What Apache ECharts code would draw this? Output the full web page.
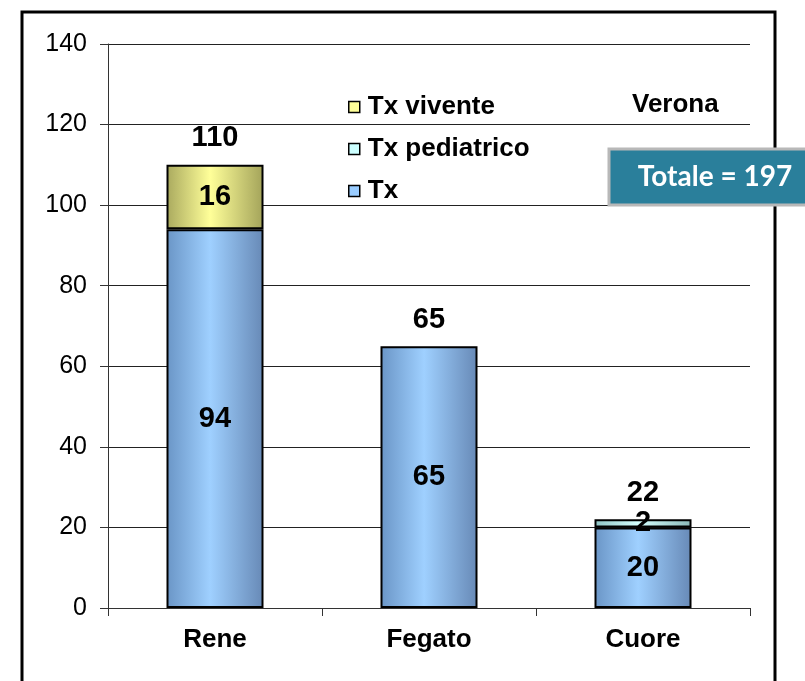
<!DOCTYPE html>
<html>
<head>
<meta charset="utf-8">
<script src="https://cdn.jsdelivr.net/npm/echarts@6/dist/echarts.min.js"></script>
<style>
html,body{margin:0;padding:0;background:#fff;}
#c{width:805px;height:681px;}
</style>
</head>
<body>
<div id="c"></div>
<script>
var categories = ['Rene', 'Fegato', 'Cuore'];
var txValues = [94, 65, 20];
var pediatricoValues = [0, 0, 2];
var viventeValues = [16, 0, 0];
var totalValues = [110, 65, 22];
var yTicks = [0, 20, 40, 60, 80, 100, 120, 140];

function grad(edgeL, peak, edgeR) {
  return new echarts.graphic.LinearGradient(0, 0, 1, 0, [
    {offset: 0, color: edgeL},
    {offset: 0.45, color: peak},
    {offset: 1, color: edgeR}
  ]);
}
function skipZero(arr) { return arr.map(function (v) { return v > 0 ? v : '-'; }); }
var FONT = '"Liberation Sans", Arial, sans-serif';
var insideLabel = {
  show: true, position: 'inside', fontFamily: FONT, fontWeight: 'bold', fontSize: 29, color: '#000',
  formatter: function (p) { return p.value > 0 ? String(p.value) : ''; }
};

var chart = echarts.init(document.getElementById('c'), null, {renderer: 'canvas'});
chart.setOption({
  animation: false,
  backgroundColor: '#fff',
  grid: {left: 108, right: 55, top: 44, bottom: 73, containLabel: false},
  legend: {
    orient: 'vertical', left: 343, top: 89, itemGap: 16,
    itemWidth: 11, itemHeight: 11, icon: 'rect',
    textStyle: {fontFamily: FONT, fontWeight: 'bold', fontSize: 26, color: '#000', padding: [0, 0, 0, 3]},
    data: [
      {name: 'Tx vivente', itemStyle: {color: '#ffff99', borderColor: '#000', borderWidth: 1.5}},
      {name: 'Tx pediatrico', itemStyle: {color: '#ccffff', borderColor: '#000', borderWidth: 1.5}},
      {name: 'Tx', itemStyle: {color: '#99ccff', borderColor: '#000', borderWidth: 1.5}}
    ]
  },
  xAxis: {
    type: 'category', data: categories,
    axisLine: {lineStyle: {color: '#333', width: 1}},
    axisTick: {show: true, length: 8, lineStyle: {color: '#333'}, alignWithLabel: false},
    axisLabel: {fontFamily: FONT, fontWeight: 'bold', fontSize: 26, color: '#000', margin: 19}
  },
  yAxis: {
    type: 'value', min: 0, max: 140, interval: 20,
    axisLine: {show: true, lineStyle: {color: '#333', width: 1}},
    axisTick: {show: true, length: 8, lineStyle: {color: '#333'}},
    axisLabel: {fontFamily: FONT, fontSize: 25, color: '#000', margin: 21,
      formatter: function (v) { return yTicks.indexOf(v) >= 0 ? String(v) : ''; }},
    splitLine: {show: true, lineStyle: {color: '#222', width: 1}}
  },
  series: [
    {
      name: 'Tx', type: 'bar', stack: 's', data: skipZero(txValues), barWidth: 97,
      itemStyle: {color: grad('#6a95c6', '#9fd0ff', '#6789b6'), borderColor: '#000', borderWidth: 2},
      label: insideLabel
    },
    {
      name: 'Tx pediatrico', type: 'bar', stack: 's', data: skipZero(pediatricoValues), barWidth: 97,
      itemStyle: {color: grad('#8fc4c4', '#d4ffff', '#8ab8b8'), borderColor: '#000', borderWidth: 2},
      label: insideLabel
    },
    {
      name: 'Tx vivente', type: 'bar', stack: 's', data: skipZero(viventeValues), barWidth: 97,
      itemStyle: {color: grad('#a9a95e', '#ffff99', '#a3a35a'), borderColor: '#000', borderWidth: 2},
      label: insideLabel
    },
    {
      name: 'Totale', type: 'bar', stack: 's', data: categories.map(function () { return 0; }), barWidth: 97,
      itemStyle: {color: 'rgba(0,0,0,0)', borderWidth: 0},
      label: {show: true, position: 'top', distance: 12, fontFamily: FONT, fontWeight: 'bold', fontSize: 29, color: '#000',
        formatter: function (p) { return String(totalValues[p.dataIndex]); }}
    }
  ],
  graphic: [
    {type: 'rect', shape: {x: 22, y: 12, width: 753, height: 700},
      style: {fill: 'none', stroke: '#000', lineWidth: 3}, z: 100},
    {type: 'text', left: 632, top: 92,
      style: {text: 'Verona', fontFamily: FONT, fontWeight: 'bold', fontSize: 26, fill: '#000'}, z: 100},
    {type: 'rect', shape: {x: 609, y: 149, width: 200, height: 56},
      style: {fill: '#2a7f9b', stroke: '#b8b8b8', lineWidth: 3}, z: 110},
    {type: 'text', x: 715, y: 177,
      style: {text: 'Totale = 197', fontFamily: 'Lato, "Open Sans", sans-serif', fontWeight: 'bold', fontSize: 28,
        fill: '#fff', align: 'center', verticalAlign: 'middle'}, z: 111}
  ]
});
</script>
</body>
</html>
